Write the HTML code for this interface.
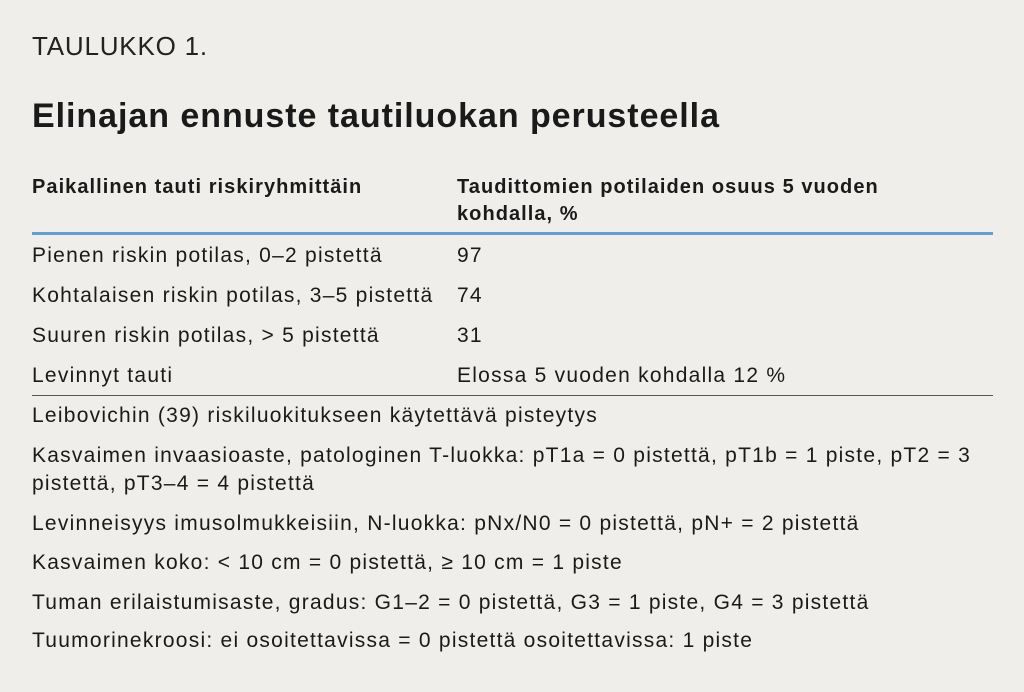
<!DOCTYPE html>
<html><head><meta charset="utf-8"><style>
body{margin:0;width:1024px;height:692px;background:#efeeeb;font-family:"Liberation Sans",sans-serif;color:#1a1a1a;position:relative;overflow:hidden}
div{position:absolute;white-space:nowrap}
.t{font-size:21px;line-height:22px;letter-spacing:1.25px}
.b{font-weight:bold;font-size:20px;letter-spacing:1.05px}
</style></head><body>
<div style="left:32px;top:31px;font-size:26px;line-height:30px;color:#222;letter-spacing:0.8px">TAULUKKO 1.</div>
<div style="font-weight:bold;left:32px;top:97px;font-size:34px;line-height:38px;letter-spacing:0.95px">Elinajan ennuste tautiluokan perusteella</div>
<div class="t b" style="left:32px;top:176px">Paikallinen tauti riskiryhmittäin</div>
<div class="t b" style="left:457px;top:176px">Taudittomien potilaiden osuus 5 vuoden</div>
<div class="t b" style="left:457px;top:203px">kohdalla, %</div>
<div style="left:32px;top:232px;width:961px;height:3px;background:#5ca3d3"></div>
<div class="t" style="left:32px;top:245px">Pienen riskin potilas, 0–2 pistettä</div><div class="t" style="left:457px;top:245px">97</div>
<div class="t" style="left:32px;top:285px">Kohtalaisen riskin potilas, 3–5 pistettä</div><div class="t" style="left:457px;top:285px">74</div>
<div class="t" style="left:32px;top:325px">Suuren riskin potilas, &gt; 5 pistettä</div><div class="t" style="left:457px;top:325px">31</div>
<div class="t" style="left:32px;top:365px">Levinnyt tauti</div><div class="t" style="left:457px;top:365px">Elossa 5 vuoden kohdalla 12 %</div>
<div style="left:32px;top:395px;width:961px;height:1px;background:#555"></div>
<div class="t" style="left:32px;top:405px">Leibovichin (39) riskiluokitukseen käytettävä pisteytys</div>
<div class="t" style="left:32px;top:445px">Kasvaimen invaasioaste, patologinen T-luokka: pT1a = 0 pistettä, pT1b = 1 piste, pT2 = 3</div>
<div class="t" style="left:32px;top:473px">pistettä, pT3–4 = 4 pistettä</div>
<div class="t" style="left:32px;top:513px">Levinneisyys imusolmukkeisiin, N-luokka: pNx/N0 = 0 pistettä, pN+ = 2 pistettä</div>
<div class="t" style="left:32px;top:552px">Kasvaimen koko: &lt; 10 cm = 0 pistettä, ≥ 10 cm = 1 piste</div>
<div class="t" style="left:32px;top:592px">Tuman erilaistumisaste, gradus: G1–2 = 0 pistettä, G3 = 1 piste, G4 = 3 pistettä</div>
<div class="t" style="left:32px;top:630px">Tuumorinekroosi: ei osoitettavissa = 0 pistettä osoitettavissa: 1 piste</div>
</body></html>
